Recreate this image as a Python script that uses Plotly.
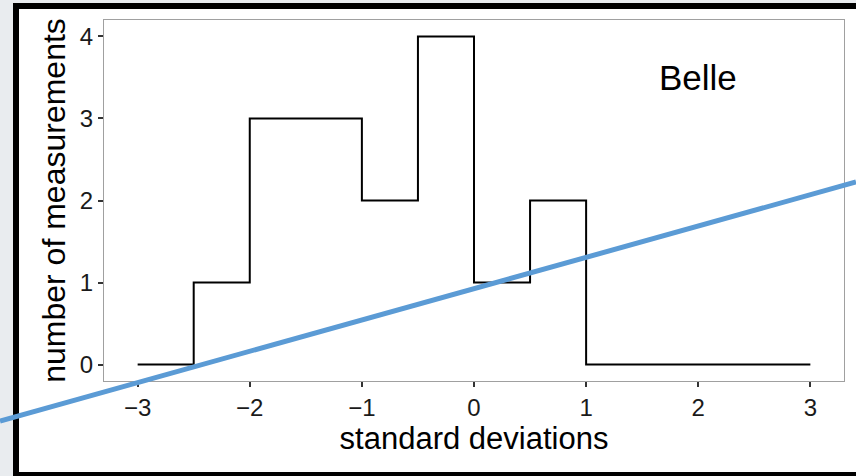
import plotly.graph_objects as go

# Histogram of pull values (bin edges in standard deviations, counts per bin)
bin_edges = [-3.0, -2.5, -2.0, -1.5, -1.0, -0.5, 0.0, 0.5, 1.0, 1.5, 2.0, 2.5, 3.0]
counts = [0, 1, 3, 3, 2, 4, 1, 2, 0, 0, 0, 0]

x_ticks = [-3, -2, -1, 0, 1, 2, 3]
x_tick_text = ["\u22123", "\u22122", "\u22121", "0", "1", "2", "3"]
y_ticks = [0, 1, 2, 3, 4]

W, H = 856, 476
ML, MR, MT, MB = 104, 12, 20, 95
PW, PH = W - ML - MR, H - MT - MB


def px(x):
    return (x - ML) / PW


def py(y):
    return (H - MB - y) / PH


FONT = "Liberation Sans, Arial, Helvetica, sans-serif"

fig = go.Figure()
fig.add_trace(go.Scatter(
    x=bin_edges,
    y=counts + [counts[-1]],
    mode="lines",
    line=dict(color="black", width=2, shape="hv"),
    showlegend=False,
    hoverinfo="skip",
))

fig.add_annotation(
    x=2.0, y=3.5, xref="x", yref="y", text="Belle", showarrow=False,
    font=dict(family=FONT, size=35, color="black"),
)

# outer frame and the blue diagonal stroke
fig.add_shape(type="rect", xref="paper", yref="paper",
              x0=px(16), x1=px(866), y0=py(6), y1=py(475),
              line=dict(color="black", width=6), fillcolor="white", layer="below")
fig.add_shape(type="line", xref="paper", yref="paper",
              x0=px(0), y0=py(421), x1=px(856), y1=py(182),
              line=dict(color="#5b9bd5", width=5), layer="above")

axis_common = dict(
    showgrid=False, zeroline=False,
    showline=True, linecolor="#a0a0a0", linewidth=1.2, mirror=True,
    ticks="outside", ticklen=5, tickwidth=1.6, tickcolor="#333333",
    tickfont=dict(family=FONT, size=24, color="#1a1a1a"),
)

fig.update_xaxes(
    range=[-3.3, 3.3], tickvals=x_ticks, ticktext=x_tick_text,
    title=dict(text="standard deviations", standoff=6,
               font=dict(family=FONT, size=31, color="black")),
    **axis_common,
)
fig.update_yaxes(
    range=[-0.2, 4.2], tickvals=y_ticks,
    title=dict(text="number of measurements", standoff=4,
               font=dict(family=FONT, size=32, color="black")),
    **axis_common,
)

fig.update_layout(
    width=W, height=H,
    margin=dict(l=ML, r=MR, t=MT, b=MB),
    paper_bgcolor="#e9ecef",
    plot_bgcolor="white",
    font=dict(family=FONT),
)

fig.write_html("out.html")
